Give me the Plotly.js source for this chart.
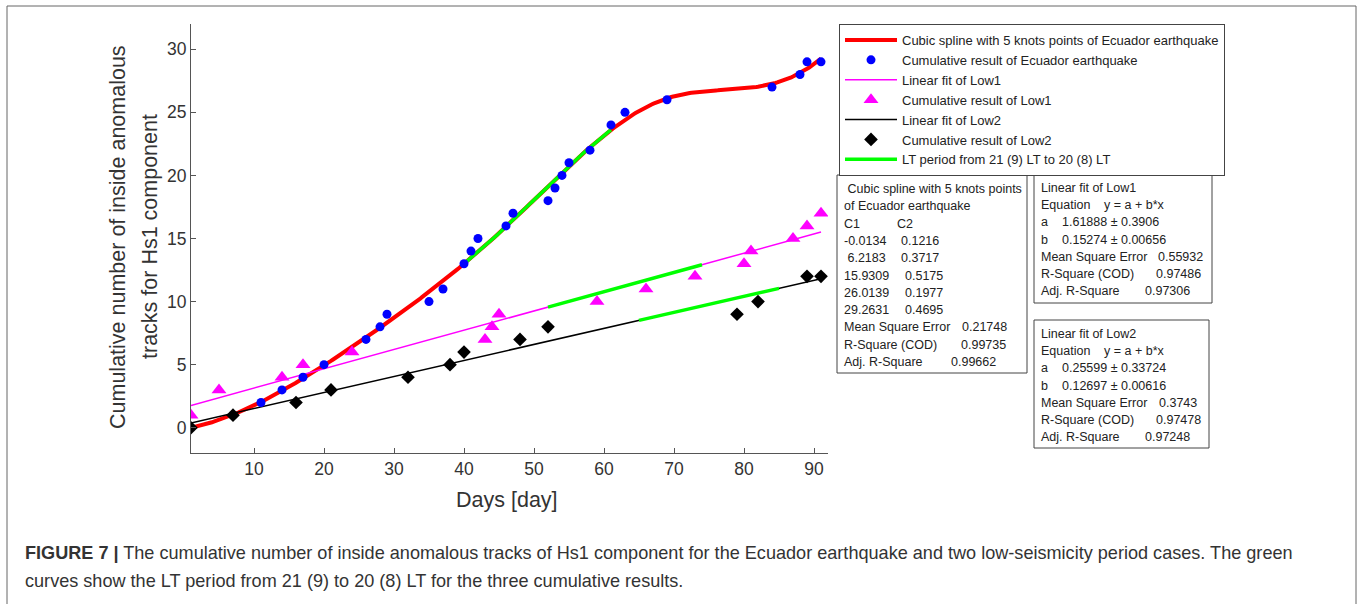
<!DOCTYPE html>
<html>
<head>
<meta charset="utf-8">
<script src="https://cdn.plot.ly/plotly-3.0.1.min.js"></script>
<style>html,body{margin:0;padding:0;background:#fff;}#chart{width:1360px;height:604px;}</style>
</head>
<body>
<div id="chart"></div>
<script>
// ---- data ----
const ecuDays  = [11,14,17,20,26,28,29,35,37,40,41,42,46,47,52,53,54,55,58,61,63,69,84,88,89,91];
const ecuCount = [2,3,4,5,7,8,9,10,11,13,14,15,16,17,18,19,20,21,22,24,25,26,27,28,29,29];
const low1Days  = [1,5,14,17,24,43,44,45,59,66,73,80,81,87,89,91];
const low1Count = [1,3,4,5,6,7,8,9,10,11,12,13,14,15,16,17];
const low2Days  = [1,7,16,21,32,38,40,48,52,79,82,89,91];
const low2Count = [0,1,2,3,4,5,6,7,8,9,10,12,12];
// cubic spline knots (C1 = value, C2 = slope)
const knotDays = [1,23.5,46,68.5,91];
const knotC1 = [-0.0134,6.2183,15.9309,26.0139,29.2631];
const knotC2 = [0.1216,0.3717,0.5175,0.1977,0.4695];
// linear fits [a, b]
const low1Fit = [1.61888,0.15274];
const low2Fit = [0.25599,0.12697];
const fitDays = [1,91];
// LT period (green) day ranges on each curve
const greenSpline = [40,61];
const greenLow1 = [52,74];
const greenLow2 = [65,85];

const xTicks = [10,20,30,40,50,60,70,80,90];
const yTicks = [0,5,10,15,20,25,30];

// ---- model evaluation ----
function spline(x){
  let i = 0;
  while (i < knotDays.length-2 && x > knotDays[i+1]) i++;
  const x0=knotDays[i], x1=knotDays[i+1], h=x1-x0, t=(x-x0)/h;
  const t2=t*t, t3=t2*t;
  return (2*t3-3*t2+1)*knotC1[i] + (t3-2*t2+t)*h*knotC2[i] + (-2*t3+3*t2)*knotC1[i+1] + (t3-t2)*h*knotC2[i+1];
}
function sampleDays(a,b){ const out=[]; const n=Math.round((b-a)*4); for(let k=0;k<=n;k++) out.push(a+(b-a)*k/n); return out; }
const splX = sampleDays(knotDays[0], knotDays[knotDays.length-1]);
const splY = splX.map(spline);
const lin = (f,x)=>f[0]+f[1]*x;

const gX=[], gY=[];
sampleDays(greenSpline[0],greenSpline[1]).forEach(x=>{gX.push(x);gY.push(spline(x));});
gX.push(null); gY.push(null);
greenLow1.forEach(x=>{gX.push(x);gY.push(lin(low1Fit,x));});
gX.push(null); gY.push(null);
greenLow2.forEach(x=>{gX.push(x);gY.push(lin(low2Fit,x));});

const traces = [
  {x:splX,y:splY,mode:'lines',name:'Cubic spline with 5 knots points of Ecuador earthquake',line:{color:'#ff0000',width:4},legendrank:1},
  {x:fitDays,y:fitDays.map(x=>lin(low1Fit,x)),mode:'lines',name:'Linear fit of Low1',line:{color:'#ff00ff',width:1.5},legendrank:3},
  {x:fitDays,y:fitDays.map(x=>lin(low2Fit,x)),mode:'lines',name:'Linear fit of Low2',line:{color:'#000000',width:1.5},legendrank:5},
  {x:gX,y:gY,mode:'lines',name:'LT period from 21 (9) LT to 20 (8) LT',line:{color:'#00ff00',width:3.5},connectgaps:false,legendrank:7},
  {x:ecuDays,y:ecuCount,mode:'markers',name:'Cumulative result of Ecuador earthquake',marker:{color:'#0000ff',size:9,symbol:'circle'},legendrank:2},
  {x:low1Days,y:low1Count,mode:'markers',name:'Cumulative result of Low1',marker:{color:'#ff00ff',size:13,symbol:'triangle-up'},legendrank:4},
  {x:low2Days,y:low2Count,mode:'markers',name:'Cumulative result of Low2',marker:{color:'#000000',size:10.5,symbol:'diamond'},legendrank:6}
];

// ---- layout helpers (pixel -> paper) ----
const L=191, R=828, T=24, B=453;
const px = x => (x-L)/(R-L);
const py = y => (B-y)/(B-T);
const FONT = '"Liberation Sans", Arial, Helvetica, sans-serif';
const BOXFONT = 12.5;

const annotations = [];
const shapes = [];
function txt(x,y,text,opts){
  annotations.push(Object.assign({xref:'paper',yref:'paper',x:px(x),y:py(y),text:text,showarrow:false,
    xanchor:'left',yanchor:'middle',font:{family:FONT,size:BOXFONT,color:'#222'}},opts||{}));
}
function box(x0,y0,x1,y1,color){
  shapes.push({type:'rect',xref:'paper',yref:'paper',x0:px(x0),x1:px(x1),y0:py(y0),y1:py(y1),line:{color:color||'#444',width:1},fillcolor:'rgba(0,0,0,0)'});
}

// text boxes: rows of [leftText, rightText, rightX, anchor]
const box1Rows = [
  [' Cubic spline with 5 knots points','',0,'left'],
  ['of Ecuador earthquake','',0,'left'],
  ['C1','C2',895,'left'],
  ['-0.0134','0.1216',899,'left'],
  [' 6.2183','0.3717',899,'left'],
  ['15.9309','0.5175',903,'left'],
  ['26.0139','0.1977',903,'left'],
  ['29.2631','0.4695',903,'left'],
  ['Mean Square Error','0.21748',1009,'right'],
  ['R-Square (COD)','0.99735',1008,'right'],
  ['Adj. R-Square','0.99662',998,'right']
];
const box2Rows = [
  ['Linear fit of Low1','',0,'left'],
  ['Equation','y = a + b*x',1102,'left'],
  ['a','1.61888 ± 0.3906',1060,'left'],
  ['b','0.15274 ± 0.00656',1060,'left'],
  ['Mean Square Error','0.55932',1205,'right'],
  ['R-Square (COD)','0.97486',1203,'right'],
  ['Adj. R-Square','0.97306',1192,'right']
];
const box3Rows = [
  ['Linear fit of Low2','',0,'left'],
  ['Equation','y = a + b*x',1102,'left'],
  ['a','0.25599 ± 0.33724',1060,'left'],
  ['b','0.12697 ± 0.00616',1060,'left'],
  ['Mean Square Error','0.3743',1199,'right'],
  ['R-Square (COD)','0.97478',1203,'right'],
  ['Adj. R-Square','0.97248',1192,'right']
];
function textBox(rows,left,top,step){
  rows.forEach((r,i)=>{
    const y = top + i*step;
    txt(left,y,r[0].replace(/ /g,'\u00a0'));
    if (r[1]) txt(r[2],y,r[1],{xanchor:r[3]});
  });
}
box(837,175,1027,373);
textBox(box1Rows,842,189,17.3);
box(1034,174,1212,303);
textBox(box2Rows,1039,188,17.2);
box(1034,320,1209,448);
textBox(box3Rows,1039,334,17.2);

// outer frame
box(7,6,1356,620,'#666');

// axis titles
const TITLEFONT = {family:FONT,size:21.5,color:'#333'};
txt(507,500,'Days [day]',{xanchor:'center',font:TITLEFONT});
txt(118,237,'Cumulative number of inside anomalous',{xanchor:'center',textangle:-90,font:TITLEFONT});
txt(150,237,'tracks for Hs1 component',{xanchor:'center',textangle:-90,font:TITLEFONT});

// caption
const CAPFONT = {family:FONT,size:18.1,color:'#333'};
txt(23,553,'<b>FIGURE 7 |</b> The cumulative number of inside anomalous tracks of Hs1 component for the Ecuador earthquake and two low-seismicity period cases. The green',{font:CAPFONT});
txt(23,581,'curves show the LT period from 21 (9) to 20 (8) LT for the three cumulative results.',{font:CAPFONT});

const axisCommon = {showgrid:false,zeroline:false,showline:true,linecolor:'#555',linewidth:1,
  ticks:'inside',ticklen:5,tickcolor:'#555',tickfont:{family:FONT,size:17.5,color:'#333'},mirror:false};

const layout = {
  width:1360,height:604,
  margin:{l:L,r:1360-R,t:T,b:604-B,pad:0},
  paper_bgcolor:'#fff',plot_bgcolor:'#fff',
  font:{family:FONT},
  showlegend:true,
  legend:{x:px(839),y:py(24),xanchor:'left',yanchor:'top',bgcolor:'#fff',bordercolor:'#444',borderwidth:1,
    font:{family:FONT,size:13,color:'#222'},itemwidth:52,tracegroupgap:0,traceorder:'normal'},
  xaxis:Object.assign({},axisCommon,{range:[1,92],tickvals:xTicks,ticktext:xTicks.map(String)}),
  yaxis:Object.assign({},axisCommon,{range:[-2,32],tickvals:yTicks,ticktext:yTicks.map(String)}),
  annotations:annotations,
  shapes:shapes
};

Plotly.newPlot('chart',traces,layout,{displayModeBar:false,staticPlot:true});
</script>
</body>
</html>
